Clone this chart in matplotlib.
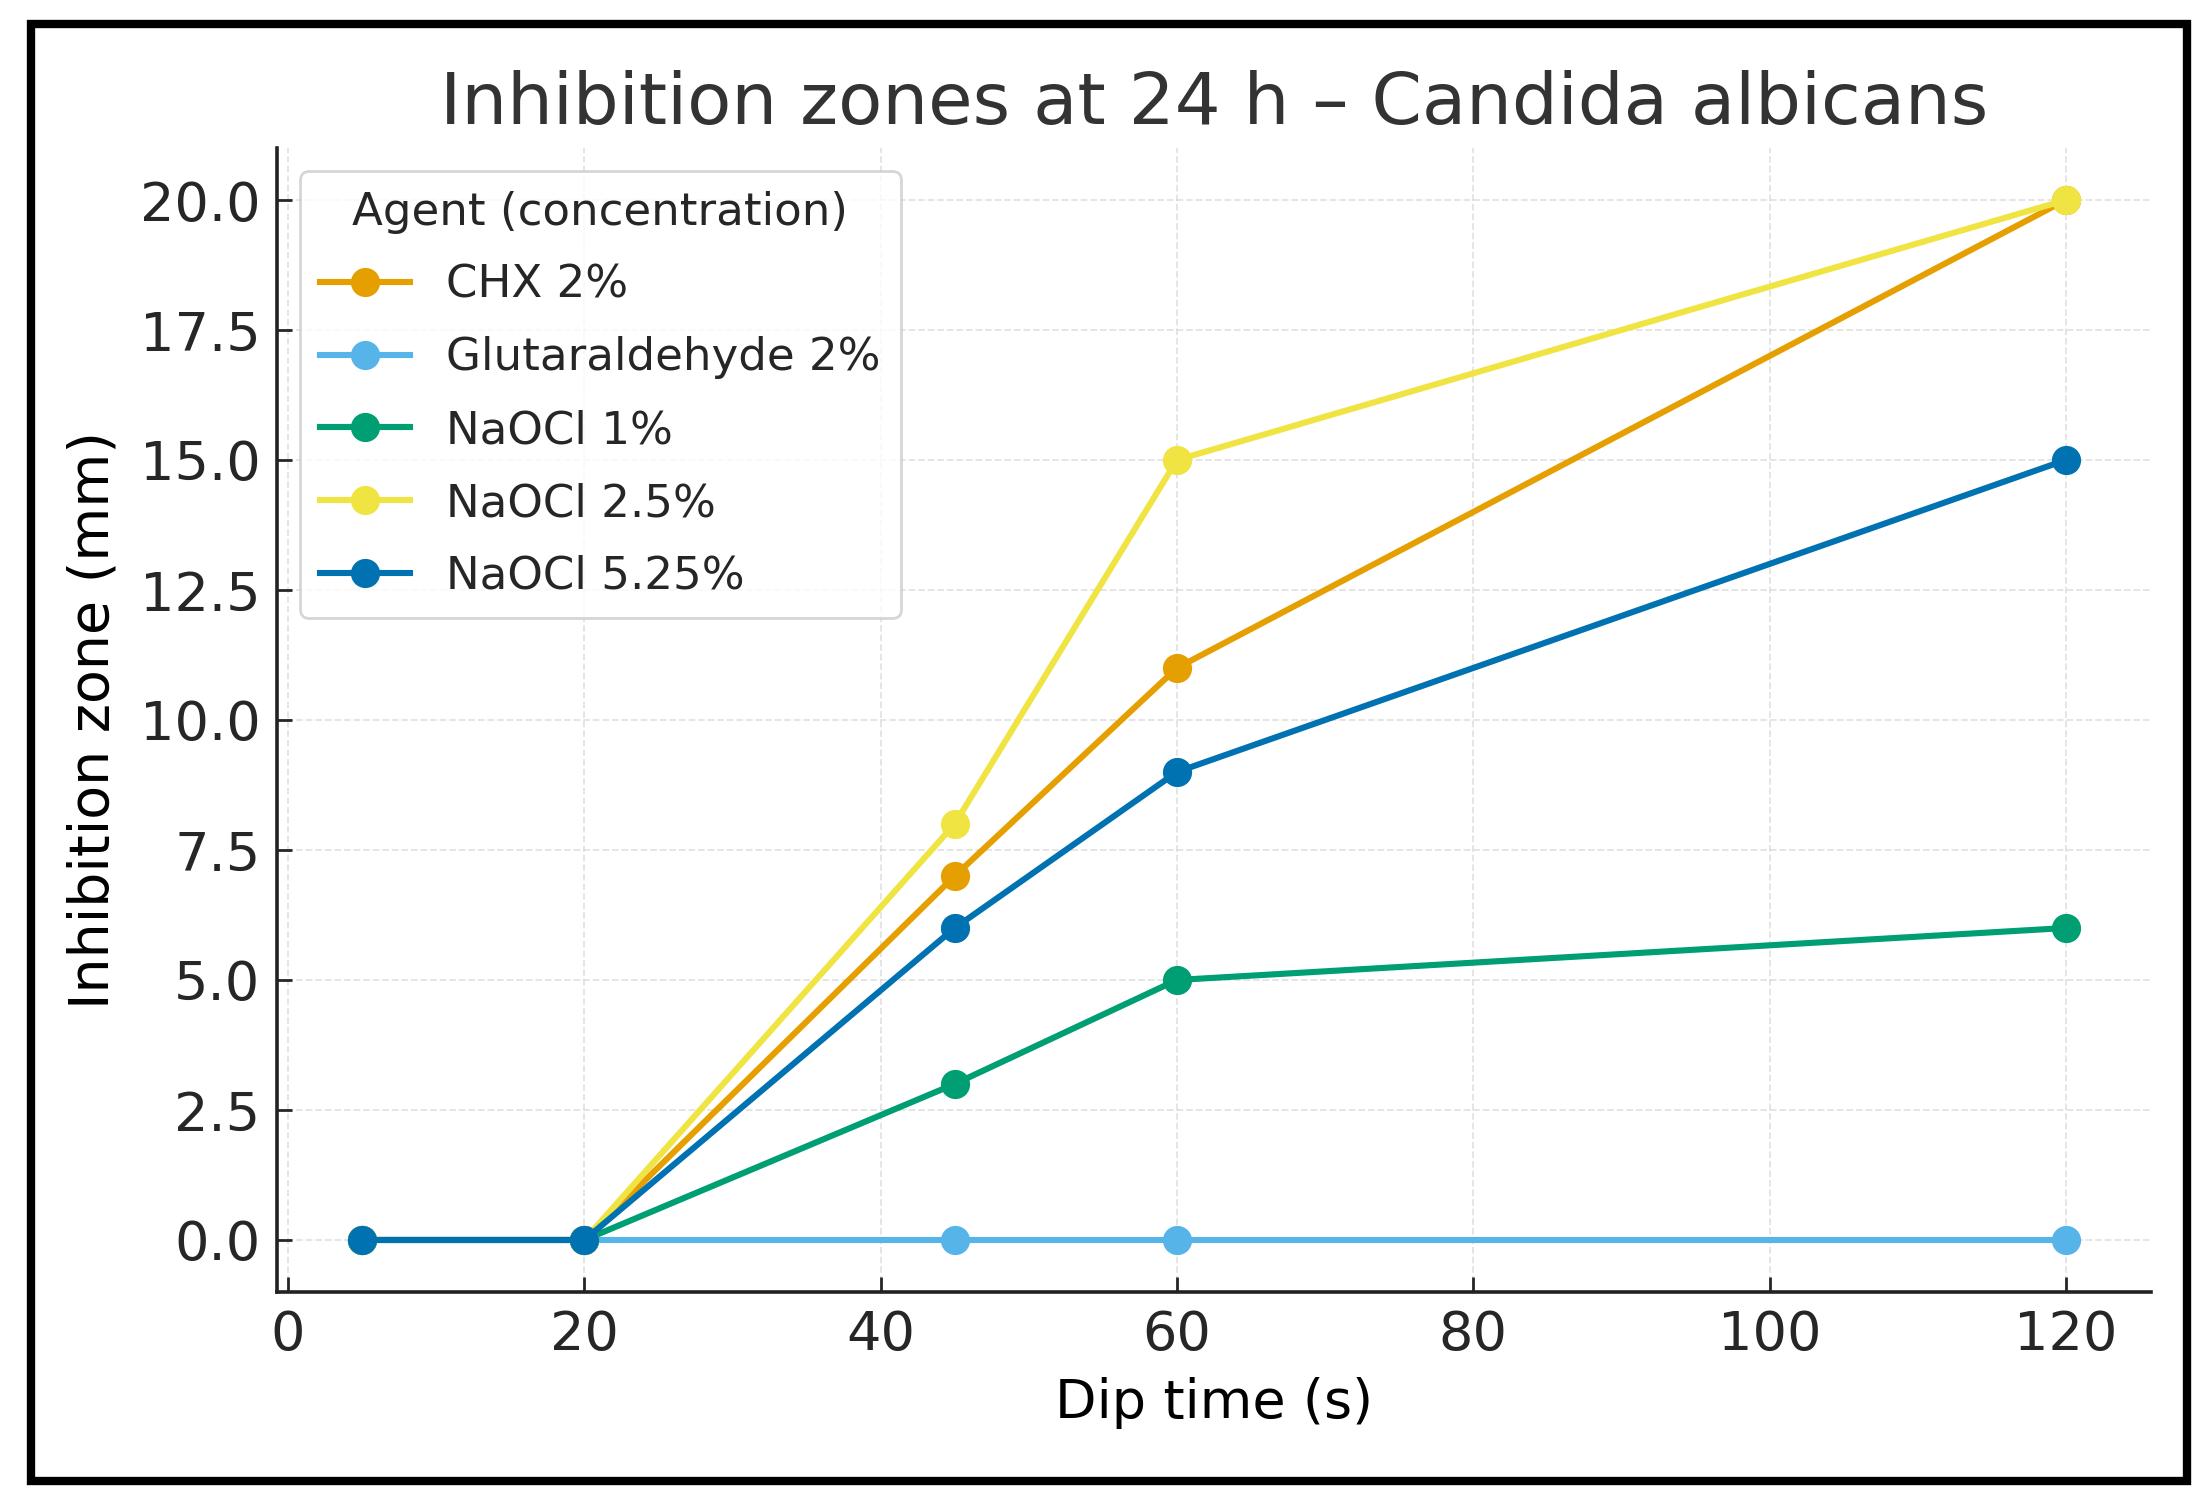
import matplotlib
matplotlib.use("Agg")
import matplotlib.pyplot as plt
from matplotlib.patches import Rectangle

dip_times = [5, 20, 45, 60, 120]
agents = ["CHX 2%", "Glutaraldehyde 2%", "NaOCl 1%", "NaOCl 2.5%", "NaOCl 5.25%"]
chx_2 = [0, 0, 7, 11, 20]
glutaraldehyde_2 = [0, 0, 0, 0, 0]
naocl_1 = [0, 0, 3, 5, 6]
naocl_2_5 = [0, 0, 8, 15, 20]
naocl_5_25 = [0, 0, 6, 9, 15]
series = [chx_2, glutaraldehyde_2, naocl_1, naocl_2_5, naocl_5_25]
colors = ["#E69F00", "#56B4E9", "#009E73", "#F0E442", "#0072B2"]

text_color = "#262626"
plt.rcParams["font.family"] = ["DejaVu Sans"]
plt.rcParams["text.color"] = text_color

fig = plt.figure(figsize=(22.05, 14.95), dpi=100)
ax = fig.add_axes([0.1256, 0.1358, 0.8499, 0.7652])

for name, values, color in zip(agents, series, colors):
    ax.plot(dip_times, values, marker="o", color=color, label=name,
            linewidth=4.4, markersize=20)

ax.set_title("Inhibition zones at 24 h \u2013 Candida albicans",
             fontsize=52, pad=17, color="#333333")
ax.set_xlabel("Dip time (s)", fontsize=39, labelpad=12)
ax.set_ylabel("Inhibition zone (mm)", fontsize=40, labelpad=14)

ax.set_yticks([0, 2.5, 5, 7.5, 10, 12.5, 15, 17.5, 20])
ax.set_yticklabels([f"{v:.1f}" for v in ax.get_yticks()])
ax.tick_params(axis="both", direction="in", length=11, width=2,
               labelsize=39, pad=12, colors=text_color)

ax.grid(True, linestyle="--", linewidth=1.3, color="#d0d0d0", alpha=0.6)
for side in ["top", "right"]:
    ax.spines[side].set_visible(False)
for side in ["left", "bottom"]:
    ax.spines[side].set_linewidth(2.6)
    ax.spines[side].set_color("#222222")

leg = ax.legend(title="Agent (concentration)", loc="upper left",
                fontsize=32.5, title_fontsize=32.5, labelspacing=0.66,
                borderpad=0.45, borderaxespad=0.5, framealpha=0.8,
                edgecolor="#cccccc")
leg.get_frame().set_linewidth(2)

# black frame around the whole picture
fig.patches.append(Rectangle((31 / 2205, 1 - 1481 / 1495),
                             (2187 - 31) / 2205, (1481 - 24) / 1495,
                             transform=fig.transFigure, fill=False,
                             edgecolor="black", linewidth=6))

fig.savefig("out.png", dpi=100)
